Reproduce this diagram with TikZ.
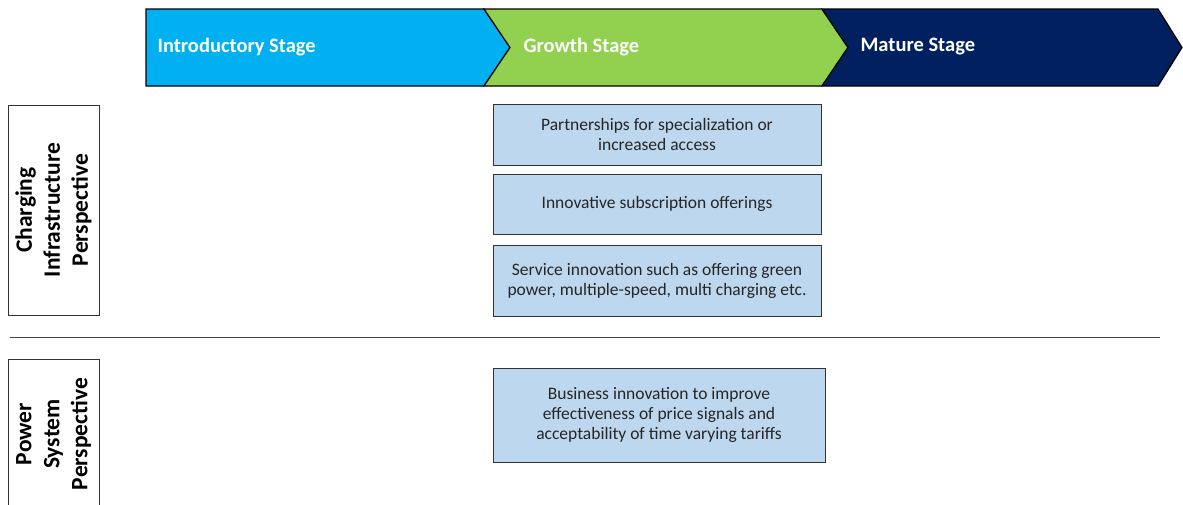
\documentclass[tikz,border=0pt]{standalone}
\usepackage{fontspec}
\setmainfont{Carlito}
\usepackage{xcolor}
\usetikzlibrary{positioning}
\definecolor{introblue}{HTML}{00B0F0}
\definecolor{growgreen}{HTML}{92D050}
\definecolor{maturenavy}{HTML}{002060}
\definecolor{ideafill}{HTML}{BDD7EE}
\definecolor{ideatext}{HTML}{262626}

\begin{document}
\begin{tikzpicture}[x=1pt,y=-1pt]
		\tikzstyle{every node}=[font=\fontsize{17.5}{20}\selectfont]
		\tikzstyle{stagelabel}=[font=\fontsize{20.5}{22}\selectfont\bfseries, text=white, anchor=west]
		\tikzstyle{idea}=[draw=black!80, line width=1pt, fill=ideafill, text=ideatext, align=center, minimum width=328pt, inner sep=0pt]
		\tikzstyle{view}=[draw=black!80, line width=0.8pt, rotate=90, align=center, minimum height=91pt, inner sep=0pt, font=\fontsize{23.5}{28}\selectfont\bfseries]
		\useasboundingbox (0,0) rectangle (1183,504);
		\clip (0,0) rectangle (1183,504);
		% stage chevrons
		\draw [line width=1.2pt, fill=introblue](146,9) -- (484,9) -- (510,47.5) -- (484,86) -- (146,86) -- cycle;
		\draw [line width=1.2pt, fill=growgreen](484,9) -- (822,9) -- (848,47.5) -- (822,86) -- (484,86) -- (510,47.5) -- cycle;
		\draw [line width=1.2pt, fill=maturenavy](822,9) -- (1158,9) -- (1182,47.5) -- (1158,86) -- (822,86) -- (848,47.5) -- cycle;
		\node [stagelabel] (intro) at (154,47) {Introductory Stage};
		\node [stagelabel] (growth) at (520,47) {Growth Stage};
		\node [stagelabel] (mature) at (857,47) {Mature Stage};
		% perspectives
		\node [view, minimum width=210pt] (charging) at (53.5,210) {Charging\\Infrastructure\\Perspective};
		\node [view, minimum width=150pt] (power) at (53.5,434) {Power\\System\\Perspective};
		\coordinate (sepL) at (10,337);
		\coordinate (sepR) at (1160,337);
		\draw [line width=1pt, black!75] (sepL) -- (sepR);
		% growth stage measures
		\node [idea, minimum height=61pt] (partner) at (657,134.5) {Partnerships for specialization or\\increased access};
		\node [idea, minimum height=60pt, below=8pt of partner] (subscr) {Innovative subscription offerings};
		\node [idea, minimum height=71pt, below=10pt of subscr] (service) {Service innovation such as offering green\\power, multiple-speed, multi charging etc.};
		\node [idea, minimum width=332pt, minimum height=94pt] (business) at (659,415) {Business innovation to improve\\effectiveness of price signals and\\acceptability of time varying tariffs};
	\end{tikzpicture}
\end{document}
